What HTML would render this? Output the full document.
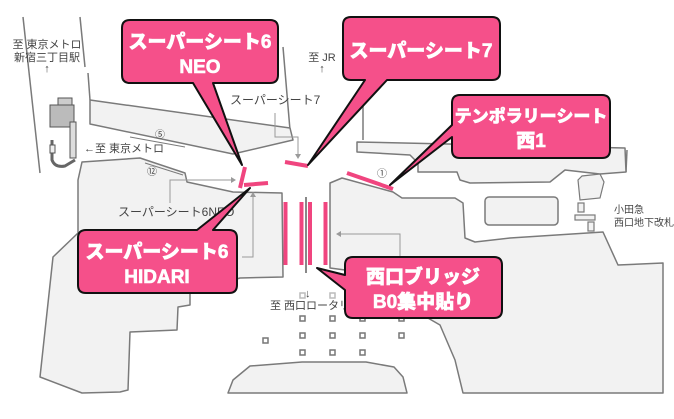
<!DOCTYPE html>
<html><head><meta charset="utf-8"><style>
html,body{margin:0;padding:0;background:#fff}
svg{display:block}
.b{fill:#f2f2f2;stroke:#7a7a7a;stroke-width:1.5;stroke-linejoin:round}
.cl{font-family:"Liberation Sans","Noto Sans CJK JP",sans-serif;font-weight:900;fill:#fff;font-size:19px;text-anchor:middle;stroke:#fff;stroke-width:0.6}
.lb{font-family:"Liberation Sans","Noto Sans CJK JP",sans-serif;fill:#444;font-size:11px}
.pk{stroke:#f0457f;stroke-width:4;fill:none}
.ar{stroke:#9a9a9a;stroke-width:1;fill:none}
.sq{fill:#fff;stroke:#777;stroke-width:1.5}
</style></head><body>
<svg width="674" height="419" viewBox="0 0 674 419" xmlns="http://www.w3.org/2000/svg">
<g stroke="#7a7a7a" stroke-width="1.5" fill="none">
<line x1="23" y1="17" x2="40" y2="173"/>
<line x1="80" y1="17" x2="85" y2="67"/>
<line x1="88" y1="73" x2="90" y2="100"/>
<line x1="283" y1="47" x2="290" y2="130"/>
<line x1="363" y1="100" x2="363" y2="140"/>
<line x1="627" y1="150" x2="626" y2="172"/>
</g>
<polygon class="b" points="90,100 290,128 293,140 233,154 90,124"/>
<line x1="130" y1="137" x2="185" y2="147" stroke="#7a7a7a" stroke-width="1"/>
<polygon class="b" points="82,162 140,158 185,173 187,182 233,192 282,193 283,277 240,278 190,293 190,305 178,307 177,330 130,332 128,390 120,392 82,393 40,377 53,257 78,233 78,180"/>
<line x1="145" y1="163" x2="183" y2="175" stroke="#7a7a7a" stroke-width="1"/>
<polygon class="b" points="357,142 625,148 626,172 600,174 565,170 550,182 470,183 460,180 457,172 418,172 418,163 410,155 357,152"/>
<polygon class="b" points="330,183 342,178 393,192 402,198 455,198 463,203 465,238 475,242 510,238 603,232 618,265 663,263 663,393 463,393 455,360 440,325 345,270 330,268"/>
<rect class="b" x="485" y="197" width="73" height="28" rx="4"/>
<g fill="#f2f2f2" stroke="#7a7a7a" stroke-width="1.2">
<polygon points="578,180 582,176 600,174 604,182 600,198 580,200"/>
<rect x="578" y="203" width="6" height="9"/>
<rect x="575" y="215" width="20" height="5"/>
<rect x="588" y="222" width="6" height="9"/>
</g>
<polygon class="b" points="228,393 233,380 250,366 302,362 366,362 394,367 403,377 407,393"/>
<g fill="#ccc" stroke="#555" stroke-width="1">
<rect x="58" y="98" width="14" height="10"/>
<rect x="50" y="105" width="24" height="22" fill="#bbb"/>
<rect x="70" y="122" width="6" height="36" fill="#ddd"/>
<path d="M52,140 L52,160 Q55,168 65,166 L75,160" fill="none" stroke-width="3" stroke="#666"/>
<rect x="50" y="145" width="5" height="8" fill="#eee"/>
</g>
<g class="sq">
<rect x="300" y="293" width="5" height="5" stroke="#bbb"/><rect x="330" y="293" width="5" height="5" stroke="#bbb"/>
<rect x="300" y="316" width="5" height="5"/><rect x="330" y="316" width="5" height="5"/><rect x="360" y="316" width="5" height="5"/><rect x="399" y="316" width="5" height="5"/>
<rect x="263" y="338" width="5" height="5"/><rect x="300" y="333" width="5" height="5"/><rect x="330" y="333" width="5" height="5"/><rect x="360" y="333" width="5" height="5"/><rect x="399" y="333" width="5" height="5"/>
<rect x="300" y="350" width="5" height="5"/><rect x="330" y="350" width="5" height="5"/><rect x="360" y="350" width="5" height="5"/>
</g>
<g class="ar">
<polyline points="275,113 275,137 298,137 298,155"/>
<polyline points="170,203 170,180 232,180"/>
<polyline points="242,257 253,257 253,196"/>
<polyline points="400,257 400,234 340,234"/>
<line x1="306" y1="197" x2="306" y2="273" stroke="#888" stroke-width="2"/>
</g>
<g fill="#9a9a9a">
<polygon points="295,154 301,154 298,159"/>
<polygon points="231,177 231,183 236,180"/>
<polygon points="250,197 256,197 253,192"/>
<polygon points="341,231 341,237 336,234"/>
</g>
<g class="pk">
<line x1="245" y1="167" x2="240" y2="188"/>
<line x1="244" y1="185" x2="268" y2="183"/>
<line x1="285" y1="162" x2="308" y2="166"/>
<line x1="347" y1="173" x2="393" y2="189"/>
<line x1="285.5" y1="202" x2="285.5" y2="265"/>
<line x1="301.5" y1="202" x2="301.5" y2="265"/>
<line x1="310" y1="202" x2="310" y2="265"/>
<line x1="325.5" y1="202" x2="325.5" y2="265"/>
</g>
<g class="lb">
<text x="47" y="48" text-anchor="middle">至 東京メトロ</text>
<text x="47" y="61" text-anchor="middle">新宿三丁目駅</text>
<text x="47" y="72" text-anchor="middle">↑</text>
<text x="322" y="61" text-anchor="middle">至 JR</text>
<text x="322" y="72" text-anchor="middle">↑</text>
<text x="230" y="104" font-size="12">スーパーシート7</text>
<text x="84" y="152">←至 東京メトロ</text>
<text x="155" y="138" font-size="10">⑤</text>
<text x="147" y="175" font-size="10">⑫</text>
<text x="377" y="177" font-size="10">①</text>
<text x="118" y="216" font-size="12">スーパーシート6NEO</text>
<text x="270" y="309">至 西口ロータリー</text>
<text x="305" y="297">↓</text>
<text x="614" y="213" font-size="10">小田急</text>
<text x="614" y="226" font-size="10">西口地下改札</text>
</g>
<g fill="#f5508a" stroke="#111" stroke-width="2" stroke-linejoin="round">
<path d="M130,20 H270 Q278,20 278,28 V75 Q278,83 270,83 H213 L242,165 L193,83 H130 Q122,83 122,75 V28 Q122,20 130,20 Z"/>
<path d="M351,17 H492 Q500,17 500,25 V72 Q500,80 492,80 H387 L308,165 L365,80 H351 Q343,80 343,72 V25 Q343,17 351,17 Z"/>
<path d="M460,95 H602 Q610,95 610,103 V150 Q610,158 602,158 H460 Q452,158 452,150 V137 L390,185 L452,125 V103 Q452,95 460,95 Z"/>
<path d="M86,230 H197 L250,188 L213,230 H229 Q237,230 237,238 V285 Q237,293 229,293 H86 Q78,293 78,285 V238 Q78,230 86,230 Z"/>
<path d="M353,257 H494 Q502,257 502,265 V310 Q502,318 494,318 H353 Q345,318 345,310 V290 L317,268 L345,275 V265 Q345,257 353,257 Z"/>
</g>
<g class="cl">
<text x="200" y="48">スーパーシート6</text>
<text x="200" y="73">NEO</text>
<text x="421" y="57">スーパーシート7</text>
<text x="531" y="122" font-size="17">テンポラリーシート</text>
<text x="531" y="147">西1</text>
<text x="157" y="258">スーパーシート6</text>
<text x="157" y="283">HIDARI</text>
<text x="423" y="283">西口ブリッジ</text>
<text x="423" y="308">B0集中貼り</text>
</g>
</svg>
</body></html>
